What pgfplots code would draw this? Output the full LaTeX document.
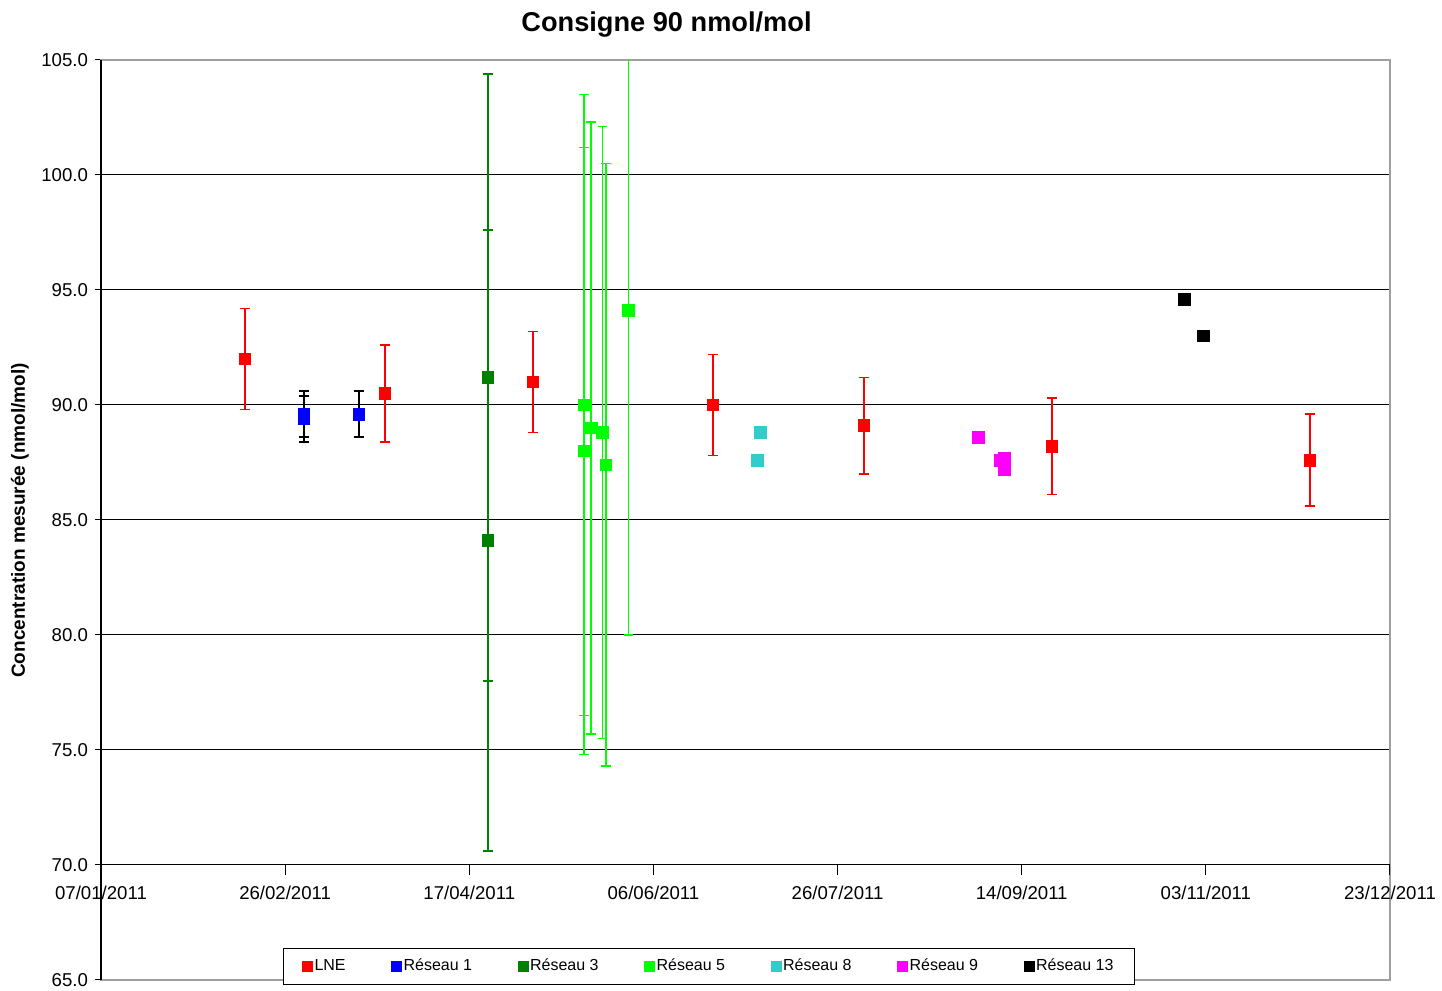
\documentclass[border=0pt]{standalone}
\usepackage{fontspec}
\setmainfont{Liberation Sans}
\usepackage{pgfplots}
\pgfplotsset{compat=1.18}
\definecolor{cLNE}{RGB}{255,0,0}
\definecolor{cR1}{RGB}{0,0,255}
\definecolor{cR3}{RGB}{0,128,0}
\definecolor{cR5}{RGB}{0,255,0}
\definecolor{cR8}{RGB}{51,204,204}
\definecolor{cR9}{RGB}{255,0,255}
\definecolor{cR13}{RGB}{0,0,0}
\begin{document}
\begin{tikzpicture}
\begin{axis}[name=frame, at={(0,0)}, anchor=south west, scale only axis,
  width=644.5pt, height=460pt, xmin=0, xmax=350, ymin=65, ymax=105,
  xtick=\empty, ytick={65,70,...,105}, ymajorgrids,
  grid style={black, line width=0.5pt},
  axis line style={gray!75, line width=0.9pt},
  ytick pos=left, tick align=outside, major tick length=3pt,
  tick style={black, line width=0.5pt},
  yticklabel style={/pgf/number format/.cd, fixed, fixed zerofill, precision=1, assume math mode=true},
  ticklabel style={font=\fontsize{9.3}{11}\selectfont},
  ]
\end{axis}
\draw[black, line width=0.6pt] (frame.south west) -- (frame.north west);
\begin{axis}[at={(0,57.5pt)}, anchor=south west, scale only axis,
  width=644.5pt, height=402.5pt, xmin=0, xmax=350, ymin=70, ymax=105,
  hide y axis, axis x line*=bottom, x axis line style={black, line width=0.5pt, -},
  xtick={0,50,...,350},
  xticklabels={07/01/2011,26/02/2011,17/04/2011,06/06/2011,26/07/2011,14/09/2011,03/11/2011,23/12/2011},
  tick align=outside, major tick length=5pt, tick style={black, line width=0.5pt},
  ticklabel style={font=\fontsize{9.3}{11}\selectfont},
  xticklabel style={yshift=-2pt},
  legend style={at={(0.4717,-0.1261)}, anchor=center, legend columns=7, draw=black, line width=0.5pt,
    font=\fontsize{8}{9}\selectfont, inner xsep=9.5pt, inner ysep=3.5pt,
    /tikz/every even column/.append style={column sep=22pt},
    nodes={inner xsep=1pt}},
  legend image code/.code={\draw[#1, mark size=2.5pt] plot coordinates {(2.5pt,0pt)};},
  every axis plot/.append style={only marks, mark=square*, mark size=2.9pt},
  error bars/error bar style={line width=0.8pt},
  error bars/error mark options={line width=0.8pt, mark size=2.4pt, rotate=90},
  ]
\addplot[color=cLNE, error bars/.cd, y dir=both, y explicit] coordinates {
  (39.1,92.0) +- (0,2.2)
  (77.1,90.5) +- (0,2.1)
  (117.3,91.0) +- (0,2.2)
  (166.2,90.0) +- (0,2.2)
  (207.2,89.1) +- (0,2.1)
  (258.2,88.2) +- (0,2.1)
  (328.3,87.6) +- (0,2.0)
};
\addlegendentry{LNE}
\addplot[color=cR1, error bars/.cd, y dir=both, y explicit,
  error bar style={black, line width=0.8pt}, error mark options={black, line width=0.8pt, mark size=2.4pt, rotate=90}] coordinates {
  (55.1,89.6) +- (0,1.0)
  (55.1,89.4) +- (0,1.0)
  (70.0,89.6) +- (0,1.0)
};
\addlegendentry{Réseau 1}
\addplot[color=cR3, error bars/.cd, y dir=both, y explicit] coordinates {
  (105.1,91.2) +- (0,13.2)
  (105.1,84.1) +- (0,13.5)
};
\addlegendentry{Réseau 3}
\addplot[color=cR5, error bars/.cd, y dir=both, y explicit] coordinates {
  (131.1,90.0) +- (0,13.5)
  (131.1,88.0) +- (0,13.2)
  (133.1,89.0) +- (0,13.3)
  (136.2,88.8) +- (0,13.3)
  (137.1,87.4) +- (0,13.1)
  (143.2,94.1) +- (0,14.1)
};
\addlegendentry{Réseau 5}
\addplot[color=cR8] coordinates {(178.2,87.6) (179.1,88.8)};
\addlegendentry{Réseau 8}
\addplot[color=cR9] coordinates {(238.2,88.6) (244.2,87.6) (245.3,87.7) (245.3,87.2)};
\addlegendentry{Réseau 9}
\addplot[color=cR13] coordinates {(294.2,94.6) (299.3,93.0)};
\addlegendentry{Réseau 13}
\end{axis}
\node[font=\bfseries\fontsize{13.6}{16}\selectfont] at (282.75pt,477.5pt) {Consigne 90 nmol/mol};
\node[rotate=90, font=\bfseries\fontsize{9.5}{11}\selectfont] at (-40.5pt,229.75pt) {Concentration mesurée (nmol/mol)};
\pgfresetboundingbox
\path (-50.5pt,-5.5pt) rectangle (670.5pt,490pt);
\end{tikzpicture}
\end{document}
